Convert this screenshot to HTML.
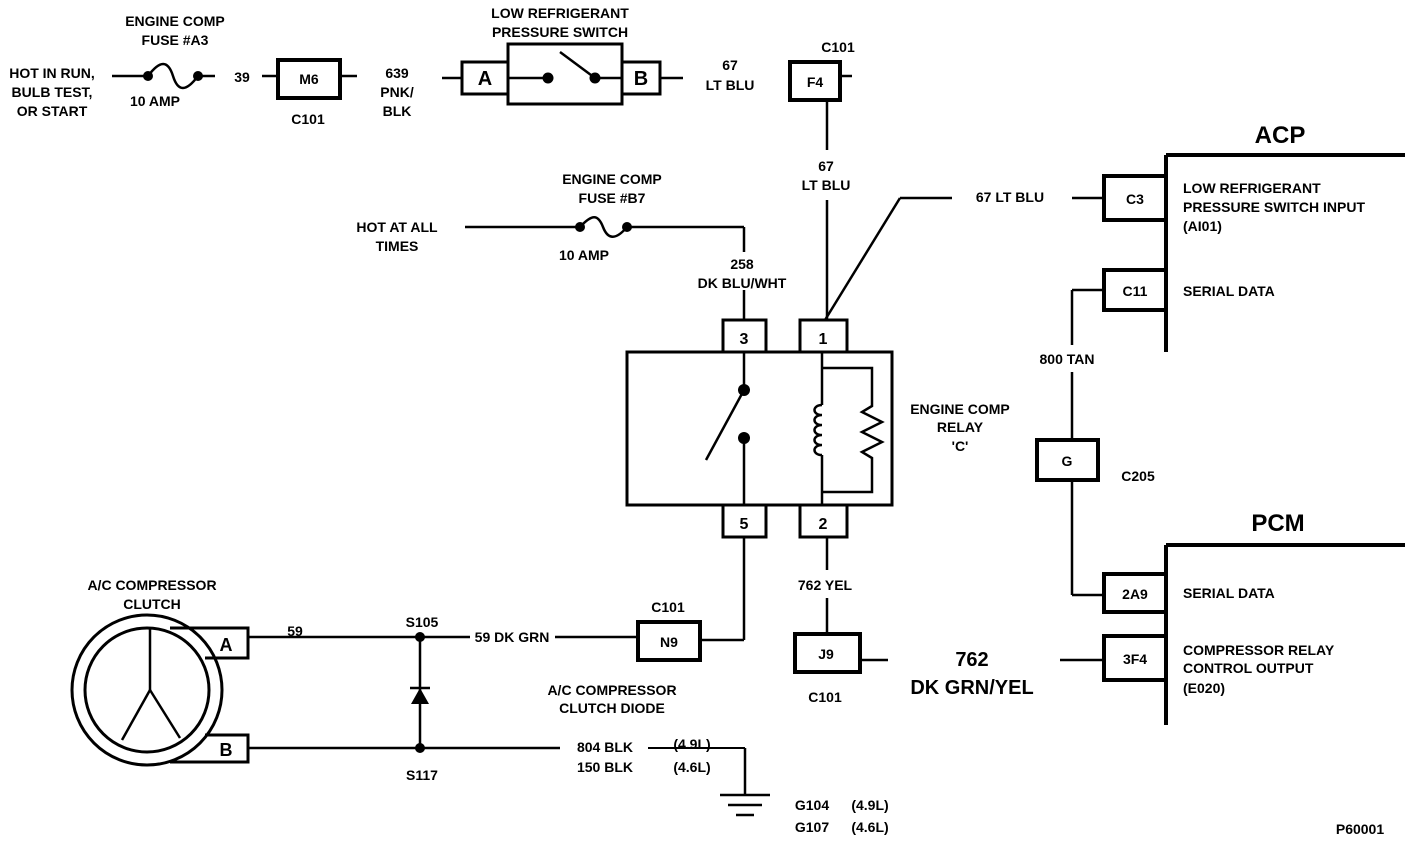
<!DOCTYPE html>
<html><head><style>
html,body{margin:0;padding:0;background:#fff;}
svg{display:block;}
text{font-family:"Liberation Sans",Arial,sans-serif;font-size:14px;font-weight:bold;fill:#000;}
</style></head><body>
<svg width="1424" height="844" viewBox="0 0 1424 844" xmlns="http://www.w3.org/2000/svg">
<g fill="none" stroke="#000" stroke-width="2.5">
<!-- top line -->
<line x1="112" y1="76" x2="148" y2="76"/>
<path d="M148 76 C160 60,168 60,173 76 C178 92,186 92,198 76"/>
<line x1="198" y1="76" x2="215" y2="76"/>
<line x1="262" y1="76" x2="278" y2="76"/>
<rect x="278" y="60" width="62" height="38" stroke-width="4"/>
<line x1="340" y1="76" x2="357" y2="76"/>
<line x1="442" y1="78" x2="462" y2="78"/>
<rect x="462" y="62" width="46" height="32" stroke-width="3"/>
<rect x="508" y="44" width="114" height="60" stroke-width="3"/>
<rect x="622" y="62" width="38" height="32" stroke-width="3"/>
<line x1="660" y1="78" x2="683" y2="78"/>
<line x1="508" y1="78" x2="548" y2="78"/>
<line x1="595" y1="78" x2="622" y2="78"/>
<line x1="595" y1="78" x2="560" y2="52"/>
<line x1="840" y1="76" x2="852" y2="76"/>
<rect x="790" y="62" width="50" height="38" stroke-width="4"/>
<line x1="827" y1="100" x2="827" y2="150"/>
<line x1="827" y1="200" x2="827" y2="320"/>
<line x1="825" y1="320" x2="900" y2="198"/>
<line x1="900" y1="198" x2="952" y2="198"/>
<line x1="1072" y1="198" x2="1104" y2="198"/>
<rect x="1104" y="176" width="62" height="44" stroke-width="4"/>
<rect x="1104" y="270" width="62" height="40" stroke-width="4"/>
<line x1="1104" y1="290" x2="1072" y2="290"/>
<line x1="1072" y1="290" x2="1072" y2="345"/>
<line x1="1072" y1="372" x2="1072" y2="440"/>
<rect x="1037" y="440" width="61" height="40" stroke-width="4"/>
<line x1="1072" y1="480" x2="1072" y2="595"/>
<line x1="1072" y1="595" x2="1104" y2="595"/>
<rect x="1104" y="574" width="62" height="38" stroke-width="4"/>
<rect x="1104" y="636" width="62" height="44" stroke-width="4"/>
<line x1="1060" y1="660" x2="1104" y2="660"/>
<line x1="1166" y1="155" x2="1166" y2="352" stroke-width="4"/>
<line x1="1166" y1="155" x2="1405" y2="155" stroke-width="4"/>
<line x1="1166" y1="545" x2="1166" y2="725" stroke-width="4"/>
<line x1="1166" y1="545" x2="1405" y2="545" stroke-width="4"/>
<!-- 258 wire -->
<line x1="465" y1="227" x2="580" y2="227"/>
<path d="M580 227 C592 214,598 214,603 227 C608 240,616 240,627 227"/>
<line x1="627" y1="227" x2="744" y2="227"/>
<line x1="744" y1="227" x2="744" y2="252"/>
<line x1="744" y1="290" x2="744" y2="320"/>
<!-- relay -->
<rect x="627" y="352" width="265" height="153" stroke-width="3"/>
<rect x="723" y="320" width="43" height="32" stroke-width="3"/>
<rect x="800" y="320" width="47" height="32" stroke-width="3"/>
<rect x="723" y="505" width="43" height="32" stroke-width="3"/>
<rect x="800" y="505" width="47" height="32" stroke-width="3"/>
<line x1="744" y1="352" x2="744" y2="390"/>
<line x1="744" y1="390" x2="706" y2="460"/>
<line x1="744" y1="438" x2="744" y2="505"/>
<line x1="822" y1="352" x2="822" y2="405"/>
<path d="M822 405 c-10 0,-10 10,0 10 c-10 0,-10 10,0 10 c-10 0,-10 10,0 10 c-10 0,-10 10,0 10 c-10 0,-10 10,0 10"/>
<line x1="822" y1="455" x2="822" y2="505"/>
<polyline points="822,368 872,368 872,406 862,412 882,422 862,432 882,442 862,452 872,458 872,492 822,492"/>
<line x1="744" y1="537" x2="744" y2="640"/>
<line x1="744" y1="640" x2="700" y2="640"/>
<rect x="638" y="622" width="62" height="38" stroke-width="4"/>
<line x1="638" y1="637" x2="555" y2="637"/>
<line x1="827" y1="537" x2="827" y2="570"/>
<line x1="827" y1="598" x2="827" y2="634"/>
<rect x="795" y="634" width="65" height="38" stroke-width="4"/>
<line x1="860" y1="660" x2="888" y2="660"/>
<!-- clutch -->
<circle cx="147" cy="690" r="75" stroke-width="3"/>
<circle cx="147" cy="690" r="62" stroke-width="3"/>
<path d="M170 628 H248 V658 H205" stroke-width="3"/>
<path d="M205 735 H248 V762 H170" stroke-width="3"/>
<line x1="150" y1="628" x2="150" y2="690"/>
<line x1="150" y1="690" x2="122" y2="740"/>
<line x1="150" y1="690" x2="180" y2="738"/>
<line x1="248" y1="637" x2="470" y2="637"/>
<line x1="420" y1="637" x2="420" y2="748"/>
<line x1="410" y1="688" x2="430" y2="688"/>
<line x1="248" y1="748" x2="560" y2="748"/>
<line x1="648" y1="748" x2="745" y2="748" stroke-width="2"/>
<line x1="745" y1="748" x2="745" y2="795"/>
<line x1="720" y1="795" x2="770" y2="795"/>
<line x1="728" y1="805" x2="762" y2="805"/>
<line x1="736" y1="815" x2="754" y2="815"/>
</g>
<polygon points="420,688 411,704 429,704" fill="#000"/>
<g fill="#000">
<circle cx="148" cy="76" r="5"/><circle cx="198" cy="76" r="5"/>
<circle cx="548" cy="78" r="5.5"/><circle cx="595" cy="78" r="5.5"/>
<circle cx="580" cy="227" r="5"/><circle cx="627" cy="227" r="5"/>
<circle cx="744" cy="390" r="6"/><circle cx="744" cy="438" r="6"/>
<circle cx="420" cy="637" r="5"/><circle cx="420" cy="748" r="5"/>
</g>
<g text-anchor="middle">
<text x="175" y="26">ENGINE COMP</text><text x="175" y="45">FUSE #A3</text>
<text x="52" y="78">HOT IN RUN,</text><text x="52" y="97">BULB TEST,</text><text x="52" y="116">OR START</text>
<text x="155" y="106">10 AMP</text>
<text x="242" y="82">39</text>
<text x="309" y="84">M6</text>
<text x="308" y="124">C101</text>
<text x="397" y="78">639</text><text x="397" y="97">PNK/</text><text x="397" y="116">BLK</text>
<text x="560" y="18">LOW REFRIGERANT</text><text x="560" y="37">PRESSURE SWITCH</text>
<text x="485" y="85" style="font-size:20px">A</text>
<text x="641" y="85" style="font-size:20px">B</text>
<text x="730" y="70">67</text><text x="730" y="90">LT BLU</text>
<text x="838" y="52">C101</text>
<text x="815" y="87">F4</text>
<text x="826" y="171">67</text><text x="826" y="190">LT BLU</text>
<text x="1010" y="202">67 LT BLU</text>
<text x="1135" y="204">C3</text>
<text x="1135" y="296">C11</text>
<text x="1067" y="364">800 TAN</text>
<text x="1067" y="466">G</text>
<text x="1138" y="481">C205</text>
<text x="1135" y="599">2A9</text>
<text x="1135" y="664">3F4</text>
<text x="1280" y="143" style="font-size:24px">ACP</text>
<text x="1278" y="531" style="font-size:24px">PCM</text>
<text x="612" y="184">ENGINE COMP</text><text x="612" y="203">FUSE #B7</text>
<text x="397" y="232">HOT AT ALL</text><text x="397" y="251">TIMES</text>
<text x="584" y="260">10 AMP</text>
<text x="742" y="269">258</text><text x="742" y="288">DK BLU/WHT</text>
<text x="744" y="344" style="font-size:16px">3</text>
<text x="823" y="344" style="font-size:16px">1</text>
<text x="744" y="529" style="font-size:16px">5</text>
<text x="823" y="529" style="font-size:16px">2</text>
<text x="960" y="414">ENGINE COMP</text><text x="960" y="432">RELAY</text><text x="960" y="451">'C'</text>
<text x="825" y="590">762 YEL</text>
<text x="826" y="659">J9</text>
<text x="825" y="702">C101</text>
<text x="972" y="666" style="font-size:20px">762</text>
<text x="972" y="694" style="font-size:20px">DK GRN/YEL</text>
<text x="668" y="612">C101</text>
<text x="669" y="647">N9</text>
<text x="512" y="642">59 DK GRN</text>
<text x="612" y="695">A/C COMPRESSOR</text><text x="612" y="713">CLUTCH DIODE</text>
<text x="152" y="590">A/C COMPRESSOR</text><text x="152" y="609">CLUTCH</text>
<text x="295" y="636">59</text>
<text x="422" y="627">S105</text>
<text x="422" y="780">S117</text>
<text x="226" y="651" style="font-size:18px">A</text>
<text x="226" y="756" style="font-size:18px">B</text>
<text x="605" y="752">804 BLK</text><text x="605" y="772">150 BLK</text>
<text x="692" y="749">(4.9L)</text><text x="692" y="772">(4.6L)</text>
<text x="812" y="810">G104</text><text x="870" y="810">(4.9L)</text>
<text x="812" y="832">G107</text><text x="870" y="832">(4.6L)</text>
<text x="1360" y="834">P60001</text>
</g>
<g>
<text x="1183" y="193">LOW REFRIGERANT</text>
<text x="1183" y="212">PRESSURE SWITCH INPUT</text>
<text x="1183" y="231">(AI01)</text>
<text x="1183" y="296">SERIAL DATA</text>
<text x="1183" y="598">SERIAL DATA</text>
<text x="1183" y="655">COMPRESSOR  RELAY</text>
<text x="1183" y="673">CONTROL OUTPUT</text>
<text x="1183" y="693">(E020)</text>
</g>
</svg>
</body></html>
